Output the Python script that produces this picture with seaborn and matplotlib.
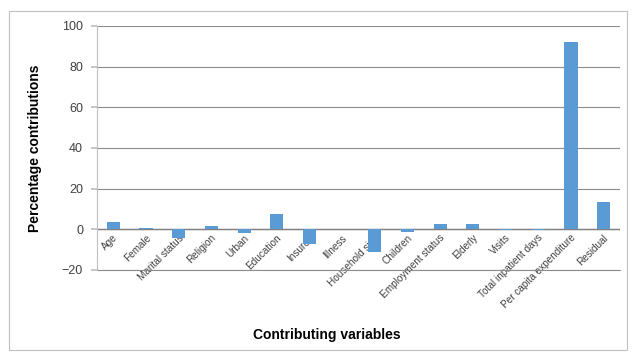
import matplotlib
matplotlib.use("Agg")
import matplotlib.pyplot as plt
import matplotlib.transforms as mtransforms
import seaborn as sns
import pandas as pd
from matplotlib.patches import Rectangle

categories = ["Age", "Female", "Marital status", "Religion", "Urban", "Education",
              "Insured", "Illness", "Household size", "Children", "Employment status",
              "Elderly", "Visits", "Total inpatient days", "Per capita expenditure", "Residual"]
values = [3.4, 0.5, -4.1, 1.8, -1.8, 7.5, -7.2, 0.0, -11.0, -1.1, 2.5, 2.5,
          -0.3, -0.3, 92.0, 13.6]
yticks = [-20, 0, 20, 40, 60, 80, 100]

df = pd.DataFrame({"var": categories, "val": values})

sns.set_theme(style="white")
plt.rcParams['font.family'] = ['Liberation Sans', 'DejaVu Sans']

fig = plt.figure(figsize=(6.32, 3.56), dpi=100)
ax = fig.add_axes([97/632, 1 - 270/356, (620-97)/632, (270-26)/356])

ax.set_ylim(-20, 100)
ax.set_yticks(yticks)
ax.grid(axis="y", color="#8c8c8c", linewidth=0.8)
ax.set_axisbelow(True)

sns.barplot(data=df, x="var", y="val", color="#5B9BD5", width=0.4, ax=ax,
            saturation=1, zorder=3, linewidth=0, edgecolor="none")

ax.set_xlim(-0.5, len(categories) - 0.5)
ax.set_ylim(-20, 100)
ax.axhline(0, color="#7f7f7f", linewidth=1.0, zorder=2.5)
ax.axhline(-20, color="#8c8c8c", linewidth=0.8, zorder=2.5, clip_on=False)

for s in ["top", "right", "bottom"]:
    ax.spines[s].set_visible(False)
ax.spines["left"].set_color("#bfbfbf")
ax.spines["left"].set_linewidth(0.8)

ax.tick_params(axis="y", length=4, color="#bfbfbf", labelsize=9, pad=6, left=True,
               labelcolor="#404040")
ax.tick_params(axis="x", length=0, labelsize=7.2, pad=0, labelcolor="#404040")

ax.set_xlabel("")
ax.set_ylabel("")
fig.text(327/632, 1 - 335/356, "Contributing variables", ha="center", va="center",
         fontsize=10, fontweight="bold", color="black")
fig.text(35/632, 1 - 148/356, "Percentage contributions", ha="center", va="center",
         fontsize=10, fontweight="bold", rotation=90, color="black")

fig.patches.append(Rectangle((9/632, 1 - 350/356), (627-9)/632, (350-11)/356,
                             transform=fig.transFigure, fill=False,
                             edgecolor="#bfbfbf", linewidth=0.8))

# category labels: just under the y=0 line, rotated 45 degrees
y0_disp = ax.transData.transform((0, 0))[1]
yb_disp = ax.transAxes.transform((0, 0))[1]
shift = mtransforms.ScaledTranslation(3/100, (y0_disp - yb_disp - 7) / fig.dpi,
                                      fig.dpi_scale_trans)
for lbl in ax.get_xticklabels():
    lbl.set_rotation(45)
    lbl.set_ha("right")
    lbl.set_va("center")
    lbl.set_rotation_mode("anchor")
    lbl.set_transform(lbl.get_transform() + shift)

fig.savefig("out.png", dpi=100)
